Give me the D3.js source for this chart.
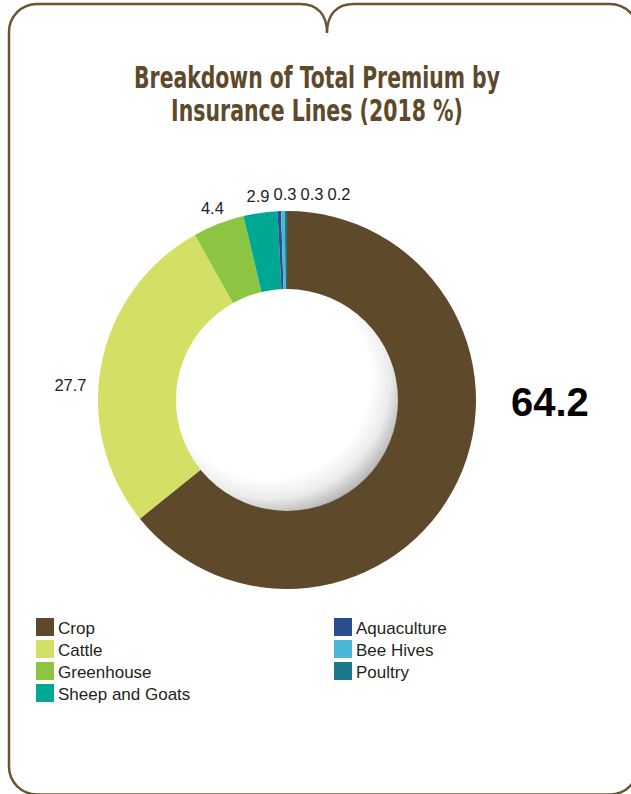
<!DOCTYPE html>
<html>
<head>
<meta charset="utf-8">
<script src="https://cdn.jsdelivr.net/npm/d3@7/dist/d3.min.js"></script>
<style>
  html, body { margin: 0; padding: 0; background: #fff; }
  svg { display: block; }
</style>
</head>
<body>
<svg id="chart" width="631" height="794"></svg>
<script>
// Insurance lines and their share of total premium (2018, %)
const categories = ["Crop", "Cattle", "Greenhouse", "Sheep and Goats", "Aquaculture", "Bee Hives", "Poultry"];
const shares = [64.2, 27.7, 4.4, 2.9, 0.3, 0.3, 0.2];
const colors = ["#5e4a2a", "#d4e065", "#8bc541", "#00a894", "#294d8e", "#4bb7d6", "#1d7889"];
const titleLines = ["Breakdown of Total Premium by", "Insurance Lines (2018 %)"];

const data = categories.map((c, i) => ({ name: c, value: shares[i], color: colors[i] }));

const W = 631, H = 794;
const cx = 287, cy = 400;
const outerR = 189, innerR = 111;
const brown = "#5e4a2a";

const svg = d3.select("#chart");
const defs = svg.append("defs");

// Shaded hole in the middle of the ring
const grad = defs.append("radialGradient")
  .attr("id", "hole")
  .attr("cx", "0.42").attr("cy", "0.40").attr("r", "0.65")
  .attr("fx", "0.42").attr("fy", "0.40");
grad.append("stop").attr("offset", "0").attr("stop-color", "#ffffff");
grad.append("stop").attr("offset", "0.70").attr("stop-color", "#ffffff");
grad.append("stop").attr("offset", "0.84").attr("stop-color", "#ebebeb");
grad.append("stop").attr("offset", "1").attr("stop-color", "#a6a6a6");

// Outer frame with a notch at the top
const frame = d3.path();
const r = 28, L = 9, T = 4, R = 638, B = 794.5, nx = 327, nd = 33;
frame.moveTo(L + r, T);
frame.lineTo(nx - 27, T);
frame.bezierCurveTo(nx - 9, T, nx, T + 11, nx, nd);
frame.bezierCurveTo(nx, T + 11, nx + 9, T, nx + 27, T);
frame.lineTo(R - r, T);
frame.arcTo(R, T, R, T + r, r);
frame.lineTo(R, B - r);
frame.arcTo(R, B, R - r, B, r);
frame.lineTo(L + r, B);
frame.arcTo(L, B, L, B - r, r);
frame.lineTo(L, T + r);
frame.arcTo(L, T, L + r, T, r);
frame.closePath();
svg.append("path")
  .attr("d", frame.toString())
  .attr("fill", "none")
  .attr("stroke", "#6a5532")
  .attr("stroke-width", 2.5);

// Title: condensed bold, each line squeezed horizontally to its width
const title = svg.append("g")
  .attr("font-family", "'Liberation Sans Narrow', 'DejaVu Sans Condensed', 'Liberation Sans', sans-serif")
  .attr("font-weight", "bold")
  .attr("font-size", 31)
  .attr("fill", brown)
  .attr("text-anchor", "middle");
const titleWidths = [366, 292];
const titleX = 317;
titleLines.forEach((t, i) => {
  const txt = title.append("text")
    .attr("x", 0)
    .attr("y", 0)
    .text(t);
  const natural = txt.node().getComputedTextLength();
  const sx = Math.min(1, titleWidths[i] / natural);
  txt.attr("transform", `translate(${titleX},${88 + i * 33}) scale(${sx},1)`);
});

// Ring
const pie = d3.pie().sort(null).value(d => d.value).startAngle(0).endAngle(2 * Math.PI);
const arcs = pie(data);
const arc = d3.arc().innerRadius(innerR - 2).outerRadius(outerR);

const g = svg.append("g").attr("transform", `translate(${cx},${cy})`);
g.selectAll("path.slice")
  .data(arcs)
  .join("path")
  .attr("class", "slice")
  .attr("d", arc)
  .attr("fill", d => d.data.color);

g.append("circle")
  .attr("r", innerR)
  .attr("fill", "url(#hole)");

// Value labels
const maxIdx = d3.maxIndex(data, d => d.value);
const labelR = 206, sideR = 217;
const labels = arcs.filter(a => a.index !== maxIdx).map(a => {
  let ang = (a.startAngle + a.endAngle) / 2;
  let rr = labelR;
  if (Math.abs(Math.cos(ang)) < 0.5) {
    // side labels are pulled toward the horizontal
    const side = ang < Math.PI ? Math.PI / 2 : 3 * Math.PI / 2;
    ang = side + (ang - side) * 0.35;
    rr = sideR;
  }
  return { d: a, x: rr * Math.sin(ang), y: -rr * Math.cos(ang), top: Math.cos(ang) > 0.5 };
});
// spread crowded labels along the top
const topLabels = labels.filter(l => l.top).sort((a, b) => a.x - b.x);
for (let i = 1; i < topLabels.length; i++) {
  topLabels[i].x = Math.max(topLabels[i].x, topLabels[i - 1].x + 27);
}

g.selectAll("text.val")
  .data(labels)
  .join("text")
  .attr("class", "val")
  .attr("x", l => l.x)
  .attr("y", l => l.y + 6)
  .attr("text-anchor", "middle")
  .attr("font-family", "'Liberation Sans', Arial, sans-serif")
  .attr("font-size", 16.5)
  .attr("fill", "#231f20")
  .text(l => d3.format(".1f")(l.d.data.value));

// Headline value for the largest line
g.append("text")
  .attr("x", outerR + 35)
  .attr("y", 16)
  .attr("text-anchor", "start")
  .attr("font-family", "'Liberation Sans', Arial, sans-serif")
  .attr("font-weight", "bold")
  .attr("font-size", 40)
  .attr("fill", "#000")
  .text(d3.format(".1f")(data[maxIdx].value));

// Legend in two columns
const perCol = 4;
const legend = svg.append("g")
  .attr("font-family", "'Liberation Sans', Arial, sans-serif")
  .attr("font-size", 17)
  .attr("fill", "#231f20");
const colX = [36, 334];
const item = legend.selectAll("g.item")
  .data(data)
  .join("g")
  .attr("class", "item")
  .attr("transform", (d, i) => `translate(${colX[Math.floor(i / perCol)]},${618 + (i % perCol) * 22})`);
item.append("rect")
  .attr("width", 18).attr("height", 18)
  .attr("fill", d => d.color);
item.append("text")
  .attr("x", 22)
  .attr("y", 16)
  .text(d => d.name);
</script>
</body>
</html>
